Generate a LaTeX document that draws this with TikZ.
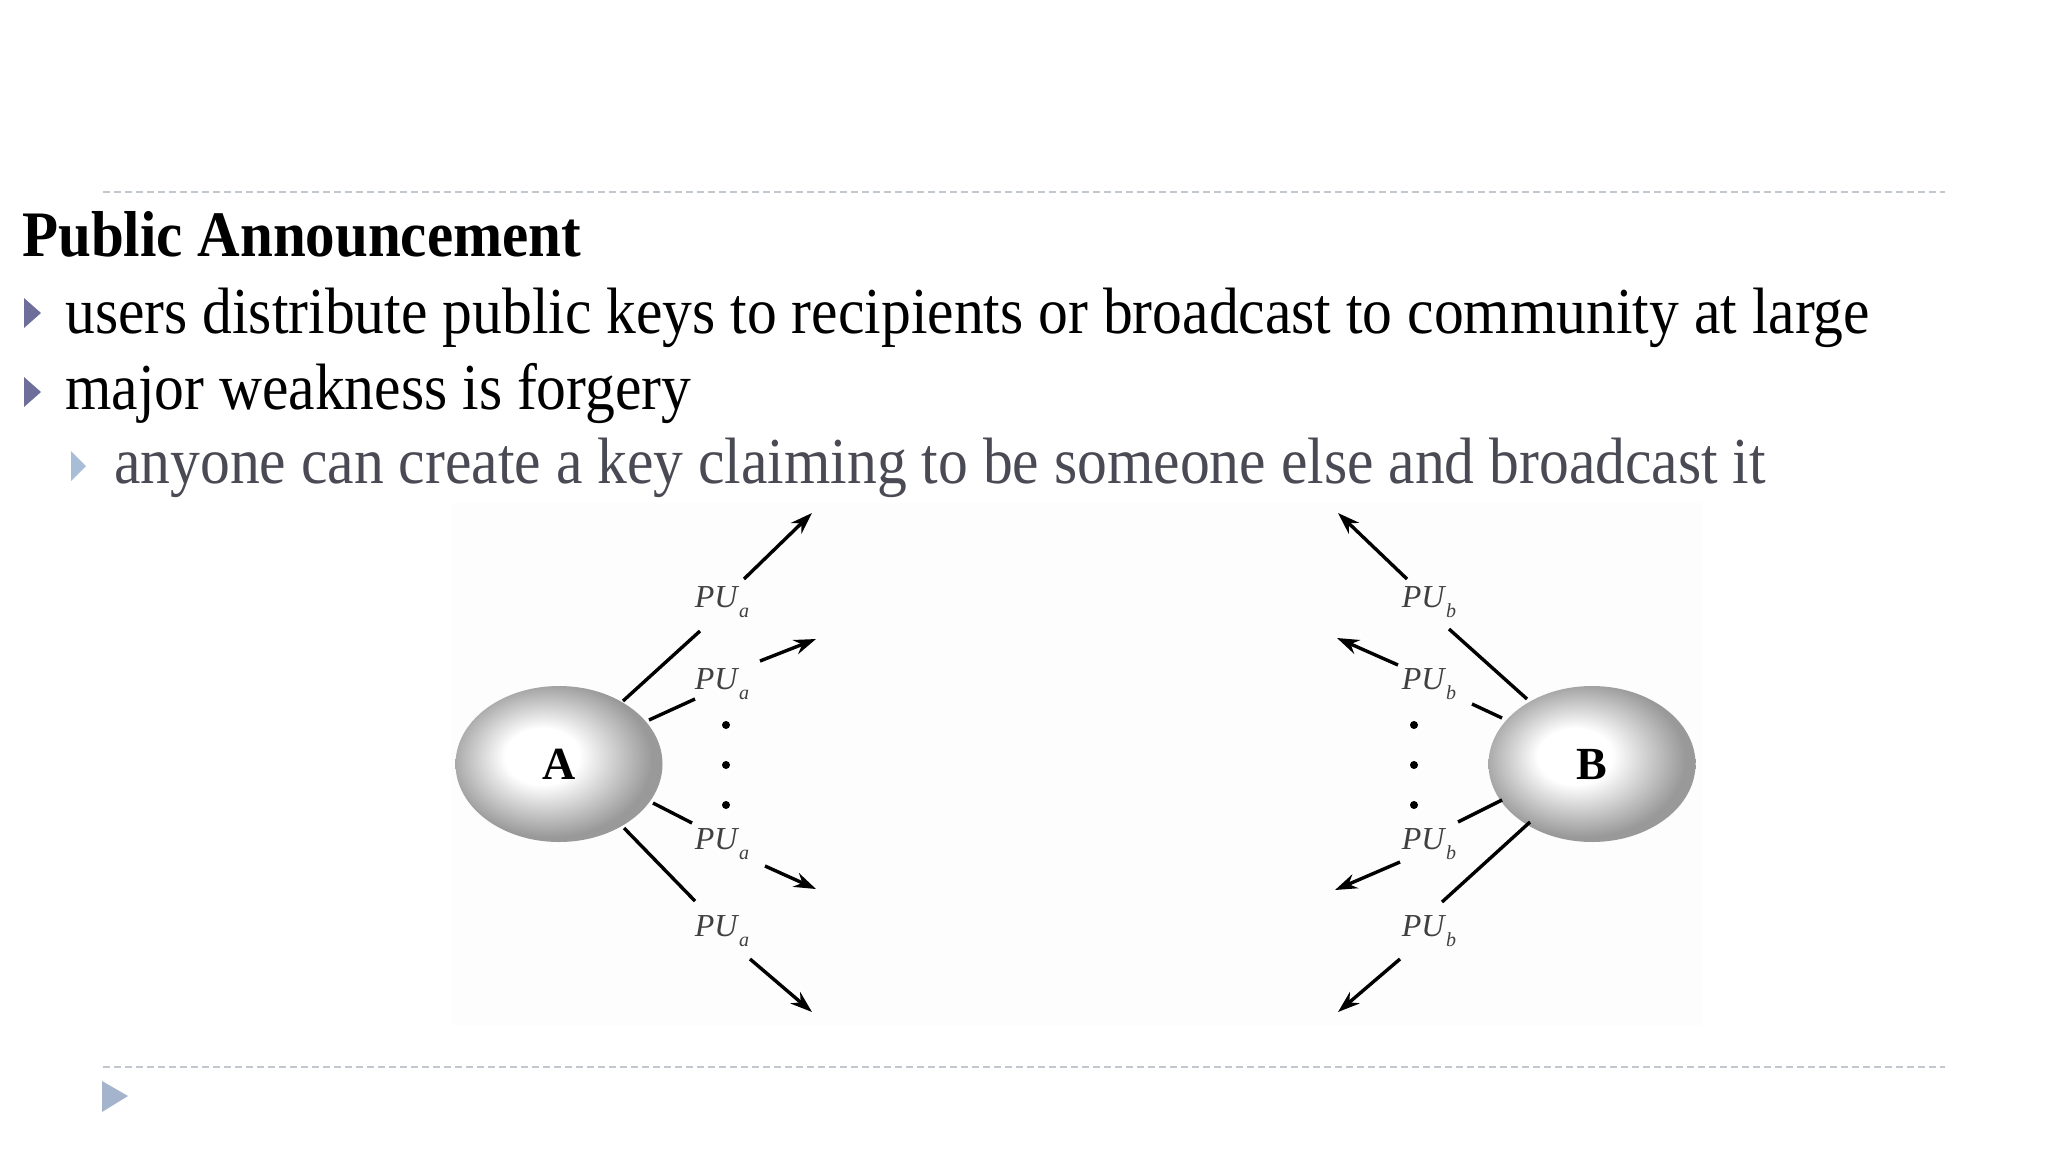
\documentclass[tikz,border=0pt]{standalone}
\usepackage{fontspec}
\setmainfont{Liberation Serif}
\usetikzlibrary{arrows.meta,shapes.geometric}
\definecolor{bulletdark}{HTML}{6E6E9A}
\definecolor{bulletlight}{HTML}{A8BED6}
\definecolor{navtri}{HTML}{A3B4CC}
\definecolor{dashgray}{HTML}{C3C8CE}
\definecolor{subgray}{HTML}{4A4A55}
\definecolor{figbg}{HTML}{FDFDFE}
\definecolor{pugray}{HTML}{404040}
\pgfdeclareradialshading{eggshade}{\pgfpoint{-5bp}{3bp}}{color(0bp)=(white); color(9bp)=(white); color(25bp)=(black!40); color(50bp)=(black!40)}
\tikzset{
  bodytext/.style={anchor=base west, inner sep=0pt, font=\fontsize{59.6}{60}\selectfont},
  egg/.style={ellipse, minimum width=207pt, minimum height=156pt, inner sep=0pt, shading=eggshade, font=\fontsize{46}{46}\selectfont\bfseries},
  pu/.style={inner sep=0pt, text=pugray, font=\fontsize{32}{32}\selectfont},
  conn/.style={line width=3.4pt, black},
  arr/.style={line width=3.4pt, black, -{Stealth[length=22pt,width=15pt]}},
  dotn/.style={circle, fill=black, inner sep=0pt, minimum size=8pt},
  dashline/.style={dashgray, line width=2pt, dash pattern=on 7pt off 4pt},
}
\newcommand{\PUa}{\textit{PU}\raisebox{-0.3em}{\fontsize{20}{20}\selectfont\textit{a}}}
\newcommand{\PUb}{\textit{PU}\raisebox{-0.3em}{\fontsize{20}{20}\selectfont\textit{b}}}
\begin{document}
\begin{tikzpicture}[x=1pt,y=-1pt]
\useasboundingbox (0,0) rectangle (2048,1152);
\fill[white] (0,0) rectangle (2048,1152);
% dashed rules
\draw[dashline] (103,192) -- (1945,192);
\draw[dashline] (103,1067) -- (1945,1067);
% bottom nav triangle
\fill[navtri] (102,1081) -- (128,1096) -- (102,1112) -- cycle;
% text
\node[anchor=base west, inner sep=0pt, font=\fontsize{59}{59}\selectfont\bfseries] (title) at (22,256) {\scalebox{1}[1.1]{Public Announcement}};
\fill[bulletdark] (24,298) -- (41,313) -- (24,328) -- cycle;
\node[bodytext] (l1) at (65,333) {\scalebox{1}[1.1]{users distribute public keys to recipients or broadcast to community at large}};
\fill[bulletdark] (24,377) -- (41,392) -- (24,407) -- cycle;
\node[bodytext] (l2) at (65,409) {\scalebox{1}[1.1]{major weakness is forgery}};
\fill[bulletlight] (71,451) -- (86,466) -- (71,481) -- cycle;
\node[bodytext, text=subgray] (l3) at (114,483) {\scalebox{1}[1.1]{anyone can create a key claiming to be someone else and broadcast it}};
% figure background
\fill[figbg] (451,503) rectangle (1702,1025);
% nodes
\node[egg] (A) at (559,764) {A};
\node[egg] (B) at (1592,764) {B};
% labels A
\node[pu] (la1) at (722,602) {\PUa};
\node[pu] (la2) at (722,684) {\PUa};
\node[pu] (la3) at (722,844) {\PUa};
\node[pu] (la4) at (722,931) {\PUa};
% labels B
\node[pu] (lb1) at (1429,602) {\PUb};
\node[pu] (lb2) at (1429,684) {\PUb};
\node[pu] (lb3) at (1429,844) {\PUb};
\node[pu] (lb4) at (1429,931) {\PUb};
% dots
\node[dotn] (ad1) at (726,725) {};
\node[dotn] (ad2) at (726,765) {};
\node[dotn] (ad3) at (726,805) {};
\node[dotn] (bd1) at (1414,725) {};
\node[dotn] (bd2) at (1414,765) {};
\node[dotn] (bd3) at (1414,805) {};
% coordinates A side
\coordinate (a1s) at (623,701); \coordinate (a1e) at (700,631);
\coordinate (a1t) at (744,579); \coordinate (a1h) at (812,513);
\coordinate (a2s) at (649,720); \coordinate (a2e) at (695,699);
\coordinate (a2t) at (760,661); \coordinate (a2h) at (816,639);
\coordinate (a3s) at (653,803); \coordinate (a3e) at (692,823);
\coordinate (a3t) at (765,866); \coordinate (a3h) at (816,889);
\coordinate (a4s) at (624,828); \coordinate (a4e) at (695,901);
\coordinate (a4t) at (750,959); \coordinate (a4h) at (812,1012);
% coordinates B side
\coordinate (b1s) at (1527,699); \coordinate (b1e) at (1449,629);
\coordinate (b1t) at (1407,579); \coordinate (b1h) at (1338,513);
\coordinate (b2s) at (1502,718); \coordinate (b2e) at (1472,704);
\coordinate (b2t) at (1398,665); \coordinate (b2h) at (1337,638);
\coordinate (b3s) at (1502,800); \coordinate (b3e) at (1458,822);
\coordinate (b3t) at (1400,862); \coordinate (b3h) at (1335,890);
\coordinate (b4s) at (1530,822); \coordinate (b4e) at (1442,902);
\coordinate (b4t) at (1400,959); \coordinate (b4h) at (1338,1012);
% connectors
\foreach \s in {a,b}{
  \foreach \i in {1,2,3,4}{
    \draw[conn] (\s\i s) -- (\s\i e);
    \draw[arr] (\s\i t) -- (\s\i h);
  }
}
\end{tikzpicture}
\end{document}
